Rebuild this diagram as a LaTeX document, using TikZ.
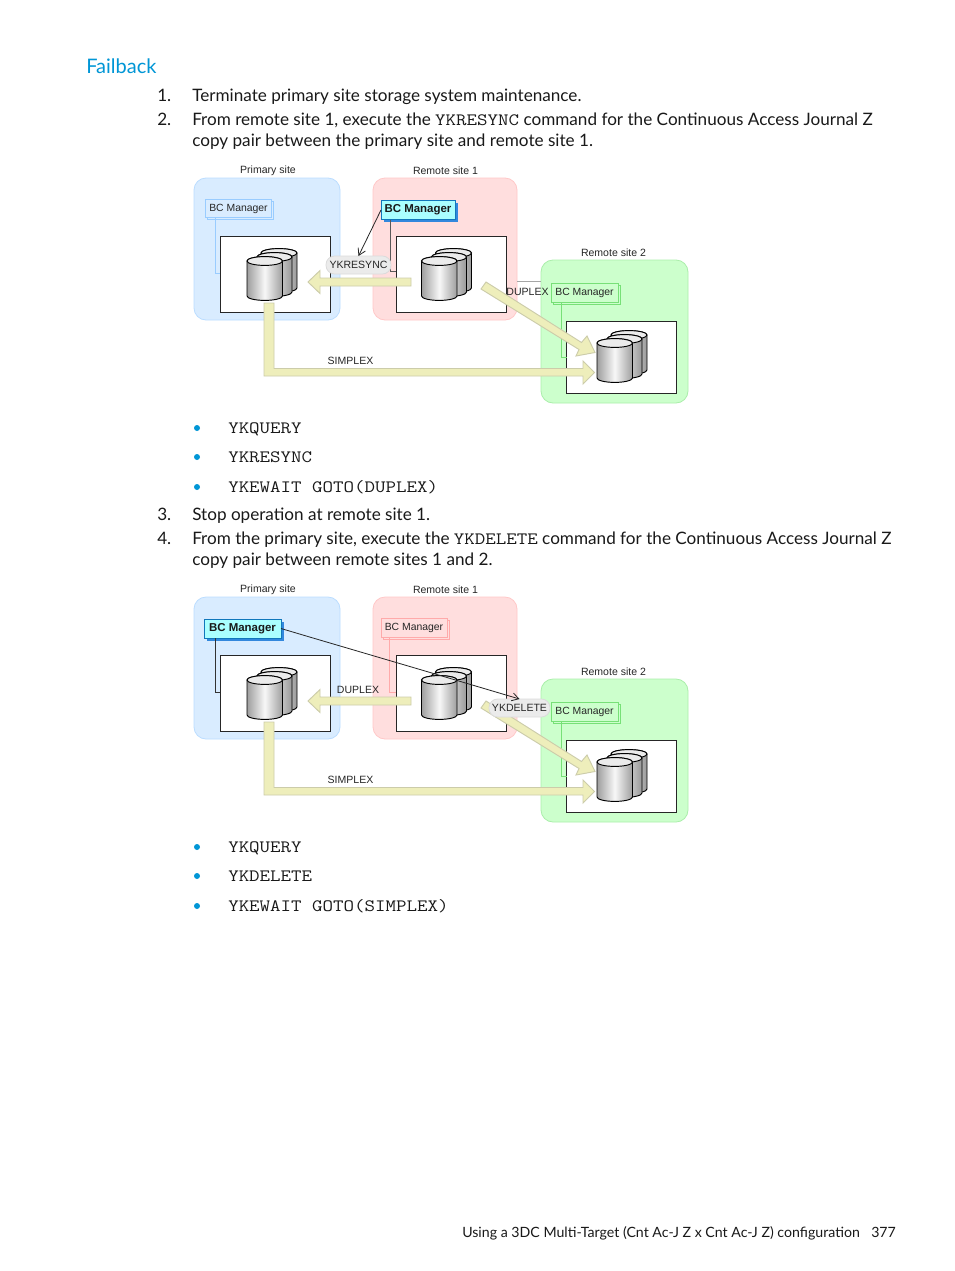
\documentclass[tikz,border=0pt]{standalone}
\usepackage{fontspec}
\setmainfont{Lato}
\setsansfont{Liberation Sans}
\setmonofont{Latin Modern Mono}[FakeStretch=1.175]
\usetikzlibrary{shadows,arrows.meta}
\definecolor{hpblue}{HTML}{0096D6}
\definecolor{arrowfill}{HTML}{EEEEBB}
\definecolor{arrowline}{HTML}{CCCCAA}
\definecolor{pfill}{HTML}{D9ECFF}
\definecolor{pedge}{HTML}{BBDDFF}
\definecolor{rfill}{HTML}{FFDEDE}
\definecolor{redge}{HTML}{FFC8C8}
\definecolor{gfill}{HTML}{CCFFCC}
\definecolor{gedge}{HTML}{AAEEAA}
\definecolor{mblue}{HTML}{99CCFF}
\definecolor{mred}{HTML}{FFAAAA}
\definecolor{mgreen}{HTML}{77E077}
\definecolor{actfill}{HTML}{AAFFFF}
\definecolor{actshadow}{HTML}{3388DD}
\definecolor{actedge}{HTML}{1177BB}
\tikzset{
  x=0.75pt,y=-0.75pt,
  size/.style 2 args={minimum width=#1*0.75pt,minimum height=#2*0.75pt,inner sep=0pt,outer sep=0pt},
  panel/.style={rounded corners=9pt,line width=0.6pt},
  innerbox/.style={draw=black!85,fill=white,line width=0.65pt},
  blockarrow/.style={draw=arrowline,fill=arrowfill,line width=0.7pt,line join=miter},
  sitelabel/.style={font=\sffamily\fontsize{7.9}{9}\selectfont,text=black!85,inner sep=0pt},
  mgridle/.style 2 args={draw=#1,fill=#2,line width=0.7pt,font=\sffamily\fontsize{7.8}{9}\selectfont,text=black!85,
     copy shadow={shadow xshift=1.5pt,shadow yshift=-1.5pt,draw=#1,fill=#2}},
  mgractive/.style={draw=actedge,fill=actfill,line width=0.6pt,font=\sffamily\bfseries\fontsize{8.6}{9}\selectfont,text=black!90,
     general shadow={shadow xshift=2.2pt,shadow yshift=-2.2pt,fill=actshadow}},
  pill/.style={draw=black!14,fill=black!8,rounded corners=6.5pt,font=\sffamily\fontsize{7.9}{9}\selectfont,text=black!85,line width=0.6pt},
  cmdline/.style={draw=black!85,line width=0.6pt,-{Straight Barb[length=5pt,width=6pt]}},
  linkline/.style={line width=0.7pt},
  body/.style={anchor=base west,inner sep=0pt,font=\fontsize{12.85}{16}\selectfont,text=black!90},
  codeline/.style={anchor=base west,inner sep=0pt,font=\ttfamily\fontsize{13}{16}\selectfont,text=black!90},
  footer/.style={anchor=base west,inner sep=0pt,font=\fontsize{10.62}{14}\selectfont,text=black!90},
  bulletdot/.style={circle,fill=hpblue,minimum size=4.5pt,inner sep=0pt},
}
\newcommand{\inlinecode}[1]{{\ttfamily\fontsize{13}{16}\selectfont #1}}
\newcommand{\cylpart}[6]{% x1 x2 ytop ybot leftcolor midcolor
  \path[left color=#5,right color=#5,middle color=#6,draw=black,line width=0.7pt]
    (#1,#3) -- (#1,#4) arc[start angle=180,end angle=360,x radius={(#2-#1)*0.375pt},y radius=3.3pt] -- (#2,#3)
    arc[start angle=0,end angle=180,x radius={(#2-#1)*0.375pt},y radius=3.3pt] -- cycle;
  \path[draw=black,line width=0.7pt,fill=black!8] ({(#1+#2)/2},#3) ellipse[x radius={(#2-#1)*0.375pt},y radius=3.3pt];
}
\newcommand{\cylstack}[2]{% offset
  \begin{scope}[shift={(#1,#2)}]
    \cylpart{261}{297}{253}{288}{black!40}{black!12}
    \cylpart{257}{292}{257}{292}{black!40}{black!12}
    \cylpart{247}{282.5}{261}{296}{black!38}{black!3}
  \end{scope}
}
\newcommand{\siteframe}[1]{%
  \node[panel,draw=pedge,fill=pfill,size={146}{142}] (#1pp) at (267,249) {};
  \node[panel,draw=redge,fill=rfill,size={144}{142}] (#1rp) at (445,249) {};
  \node[panel,draw=gedge,fill=gfill,size={147}{143}] (#1gp) at (614.5,331.5) {};
  \node[sitelabel] (#1pl) at (268,170.7) {Primary site};
  \node[sitelabel] (#1rl) at (445.5,170.7) {Remote site 1};
  \node[sitelabel] (#1gl) at (613.5,252.7) {Remote site 2};
  \node[innerbox,size={110.5}{76}] (#1pi) at (275.5,274) {};
  \node[innerbox,size={110}{76}] (#1ri) at (451,274) {};
  \node[innerbox,size={110}{72}] (#1gi) at (621.5,357) {};
}
\newcommand{\siteflows}[1]{%
  \cylstack{0}{0}\cylstack{174.5}{0}\cylstack{350}{82}
  \draw[blockarrow] (411,278) -- (320,278) -- (320,270.5) -- (308,282) -- (320,293.5) -- (320,286) -- (411,286) -- cycle;
  \draw[blockarrow] (264,303) -- (274,303) -- (274,368.5) -- (583,368.5) -- (583,361) -- (594.5,372.5) -- (583,384) -- (583,376) -- (264,376) -- cycle;
  \draw[blockarrow] (486,282) -- (581.5,342.5) -- (587,336) -- (595,352.5) -- (576,356) -- (579,349.5) -- (481,289) -- cycle;
  \node[sitelabel] (#1sx) at (350.5,361) {SIMPLEX};
}
\begin{document}
\begin{tikzpicture}
\useasboundingbox[fill=white] (0,0) rectangle (954,1271);
% text
\node[anchor=base west,inner sep=0pt,font=\fontsize{15}{18}\selectfont,text=hpblue] (head) at (86,73) {Failback};
\node[body] (n1) at (157,101) {1.};
\node[body] (t1) at (192,101) {Terminate primary site storage system maintenance.};
\node[body] (n2) at (157,125) {2.};
\node[body] (t2) at (192,125) {From remote site 1, execute the \inlinecode{YKRESYNC} command for the Continuous Access Journal Z};
\node[body] (t2b) at (192,146) {copy pair between the primary site and remote site 1.};
\foreach \yy/\tx [count=\i] in {433/YKQUERY,462/YKRESYNC,492/{YKEWAIT GOTO(DUPLEX)}}{
  \node[bulletdot] (ba\i) at (197,\yy-5) {};
  \node[codeline] (ca\i) at (228,\yy) {\tx};
}
\node[body] (n3) at (157,520) {3.};
\node[body] (t3) at (192,520) {Stop operation at remote site 1.};
\node[body] (n4) at (157,544) {4.};
\node[body] (t4) at (192,544) {From the primary site, execute the \inlinecode{YKDELETE} command for the Continuous Access Journal Z};
\node[body] (t4b) at (192,565) {copy pair between remote sites 1 and 2.};
\foreach \yy/\tx [count=\i] in {852/YKQUERY,881/YKDELETE,911/{YKEWAIT GOTO(SIMPLEX)}}{
  \node[bulletdot] (bb\i) at (197,\yy-5) {};
  \node[codeline] (cb\i) at (228,\yy) {\tx};
}
\node[footer] (foot) at (462,1237) {Using a 3DC Multi-Target (Cnt Ac-J Z x Cnt Ac-J Z) configuration};
\node[footer] (page) at (871,1237) {377};
% diagram 1
\begin{scope}
  \siteframe{a}
  \coordinate (agl0) at (530,281);
  \draw[black!35,line width=0.5pt] (arp.east |- agl0) -- (agp.west |- agl0);
  \node[mgridle={mblue}{pfill},size={66}{18}] (apm) at (238.5,208.5) {BC Manager};
  \node[mgractive,size={74}{19}] (arm) at (418,210) {BC Manager};
  \node[mgridle={mgreen}{gfill},size={67}{19}] (agm) at (584.5,292.5) {BC Manager};
  \coordinate (apc) at (215,273); \coordinate (arc) at (390,271); \coordinate (agc) at (561.5,357);
  \draw[linkline,mblue] (apm.south -| apc) |- (api.west |- apc);
  \draw[linkline,black!65] (arm.south -| arc) |- (ari.west |- arc);
  \draw[linkline,mgreen] (agm.south -| agc) |- (agi.west |- agc);
  \siteflows{a}
  \node[pill,size={65}{18}] (acmd) at (358.5,265) {YKRESYNC};
  \draw[cmdline] (arm.west) -- (acmd.north);
  \node[sitelabel] (adp) at (527.5,291.5) {DUPLEX};
\end{scope}
% diagram 2
\begin{scope}[shift={(0,419)}]
  \siteframe{b}
  \node[mgractive,size={77}{19}] (bpm) at (242.5,209.5) {BC Manager};
  \node[mgridle={mred}{rfill},size={66}{19}] (brm) at (414,208.5) {BC Manager};
  \node[mgridle={mgreen}{gfill},size={67}{19}] (bgm) at (584.5,292.5) {BC Manager};
  \coordinate (bpc) at (215.5,273); \coordinate (brc) at (389.5,273); \coordinate (bgc) at (561.5,357);
  \draw[linkline,black!80] (bpm.south -| bpc) |- (bpi.west |- bpc);
  \draw[linkline,mred] (brm.south -| brc) |- (bri.west |- brc);
  \draw[linkline,mgreen] (bgm.south -| bgc) |- (bgi.west |- bgc);
  \siteflows{b}
  \node[pill,size={61}{18}] (bcmd) at (519.5,289) {YKDELETE};
  \coordinate (bk1) at (313,219); \coordinate (bk2) at (420,250.5);
  \draw[cmdline] (bpm.east) -- (bk1) -- (bk2) -- (bcmd.north);
  \node[sitelabel] (bdp) at (358,270.5) {DUPLEX};
\end{scope}
\end{tikzpicture}
\end{document}
